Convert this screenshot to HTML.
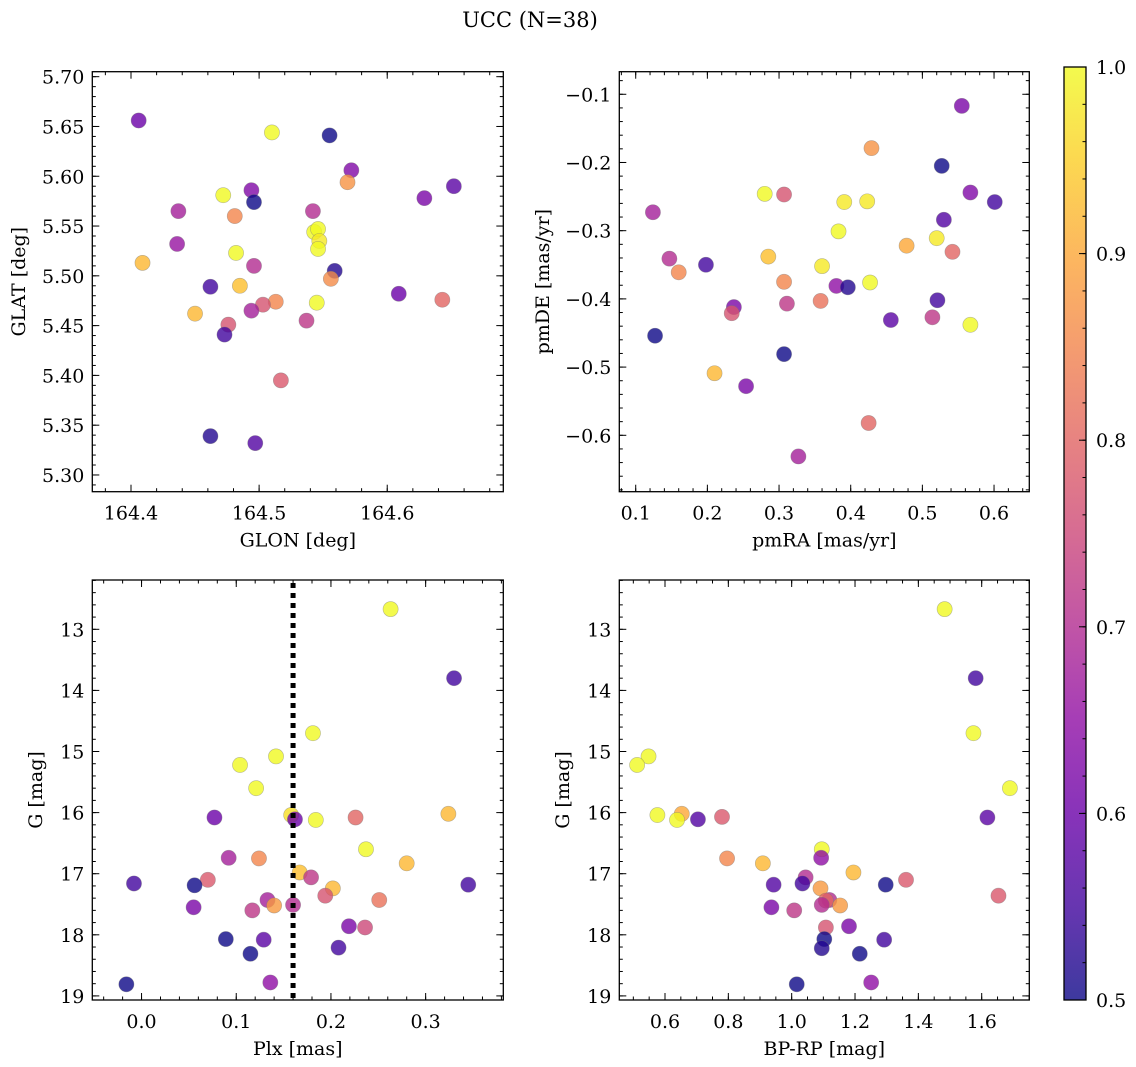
<!DOCTYPE html>
<html><head><meta charset="utf-8"><style>
html,body{margin:0;padding:0;background:#fff;}
svg{display:block;font-family:"DejaVu Serif","Liberation Serif",serif;}
</style></head><body>
<svg id="fig" width="1136" height="1067" viewBox="0 0 1136 1067" xmlns="http://www.w3.org/2000/svg">
<defs>
<linearGradient id="cbgrad" x1="0" y1="1" x2="0" y2="0">
<stop offset="0" stop-color="#0d0887"/><stop offset="0.1" stop-color="#41049d"/><stop offset="0.2" stop-color="#6a00a8"/><stop offset="0.3" stop-color="#8f0da4"/><stop offset="0.4" stop-color="#b12a90"/><stop offset="0.5" stop-color="#cc4778"/><stop offset="0.6" stop-color="#e16462"/><stop offset="0.7" stop-color="#f2844b"/><stop offset="0.8" stop-color="#fca636"/><stop offset="0.9" stop-color="#fcce25"/><stop offset="1" stop-color="#f0f921"/>
</linearGradient>
</defs>
<text x="530" y="27" font-size="21" text-anchor="middle">UCC (N=38)</text>
</svg>
<script>
// ---- Panel 1: GLON / GLAT ----
const glon = [164.406,164.510,164.555,164.572,164.652,164.629,164.494,164.496,164.472,164.569,164.437,164.542,164.481,164.436,164.543,164.546,164.547,164.546,164.482,164.409,164.496,164.559,164.556,164.462,164.485,164.545,164.609,164.643,164.513,164.503,164.450,164.494,164.537,164.476,164.473,164.517,164.462,164.497];
const glat = [5.656,5.644,5.641,5.606,5.590,5.578,5.586,5.574,5.581,5.594,5.565,5.565,5.560,5.532,5.544,5.547,5.535,5.527,5.523,5.513,5.510,5.505,5.497,5.489,5.490,5.473,5.482,5.476,5.474,5.471,5.462,5.465,5.455,5.451,5.441,5.395,5.339,5.332];
const prob1 = [0.6,1.0,0.5,0.63,0.58,0.62,0.63,0.5,1.0,0.87,0.68,0.7,0.85,0.66,1.0,1.0,0.98,1.0,1.0,0.92,0.7,0.52,0.86,0.55,0.93,1.0,0.6,0.8,0.85,0.77,0.92,0.68,0.72,0.77,0.55,0.78,0.52,0.57];
// ---- Panel 2: pmRA / pmDE ----
const pmra = [0.555,0.429,0.527,0.280,0.307,0.567,0.391,0.423,0.601,0.124,0.530,0.383,0.520,0.478,0.542,0.285,0.147,0.198,0.160,0.360,0.307,0.427,0.380,0.396,0.237,0.234,0.311,0.358,0.521,0.456,0.514,0.567,0.127,0.307,0.210,0.254,0.425,0.327];
const pmde = [-0.117,-0.179,-0.205,-0.246,-0.247,-0.244,-0.258,-0.257,-0.258,-0.273,-0.284,-0.301,-0.311,-0.322,-0.331,-0.338,-0.341,-0.350,-0.361,-0.352,-0.375,-0.376,-0.381,-0.383,-0.412,-0.421,-0.407,-0.403,-0.402,-0.431,-0.427,-0.438,-0.454,-0.481,-0.509,-0.528,-0.582,-0.631];
const prob2 = [0.62,0.87,0.5,1.0,0.77,0.63,0.98,0.98,0.55,0.68,0.57,1.0,0.98,0.9,0.8,0.93,0.7,0.55,0.85,0.98,0.85,1.0,0.65,0.52,0.62,0.77,0.72,0.82,0.55,0.58,0.72,1.0,0.5,0.5,0.92,0.62,0.8,0.68];
// ---- Panel 3: Plx / G ----
const plx = [0.263,0.330,0.181,0.142,0.104,0.121,0.077,0.158,0.162,0.184,0.226,0.324,0.237,0.092,0.124,0.280,0.167,0.179,0.070,-0.008,0.056,0.345,0.202,0.194,0.133,0.251,0.140,0.160,0.055,0.117,0.219,0.236,0.089,0.129,0.208,0.115,-0.016,0.136];
const gmag3 = [12.67,13.80,14.70,15.08,15.22,15.60,16.08,16.04,16.11,16.12,16.08,16.02,16.60,16.74,16.75,16.83,16.98,17.06,17.10,17.16,17.19,17.18,17.24,17.36,17.43,17.43,17.52,17.51,17.55,17.60,17.86,17.88,18.07,18.08,18.21,18.31,18.81,18.78];
const prob3 = [1.0,0.55,1.0,1.0,1.0,1.0,0.6,0.97,0.6,1.0,0.8,0.92,1.0,0.68,0.85,0.92,0.93,0.72,0.78,0.55,0.5,0.55,0.92,0.77,0.68,0.82,0.88,0.7,0.62,0.72,0.62,0.75,0.5,0.58,0.55,0.5,0.5,0.65];
const plxLine = [0.16];
// ---- Panel 4: BP-RP / G ----
const bprp = [1.483,1.581,1.574,0.548,0.512,1.689,0.576,0.653,0.638,0.704,0.780,1.618,1.095,1.093,0.796,0.909,1.195,1.044,1.361,0.943,1.034,1.297,1.091,1.653,1.119,1.108,1.153,1.095,0.936,1.008,1.181,1.108,1.292,1.103,1.095,1.215,1.016,1.251];
const gmag4 = [12.67,13.80,14.70,15.08,15.22,15.60,16.04,16.02,16.12,16.11,16.07,16.08,16.60,16.74,16.75,16.83,16.98,17.06,17.10,17.18,17.16,17.18,17.24,17.36,17.43,17.44,17.52,17.51,17.55,17.60,17.86,17.88,18.08,18.07,18.22,18.31,18.81,18.78];
const prob4 = [1.0,0.55,1.0,1.0,1.0,1.0,1.0,0.9,1.0,0.57,0.78,0.58,1.0,0.65,0.85,0.92,0.92,0.7,0.78,0.57,0.55,0.5,0.88,0.78,0.7,0.8,0.88,0.7,0.62,0.72,0.62,0.77,0.55,0.5,0.52,0.5,0.5,0.65];
// ---- tick labels ----
const ticks1x = [164.4,164.5,164.6];
const ticks1y = [5.30,5.35,5.40,5.45,5.50,5.55,5.60,5.65,5.70];
const ticks2x = [0.1,0.2,0.3,0.4,0.5,0.6];
const ticks2y = [-0.1,-0.2,-0.3,-0.4,-0.5,-0.6];
const ticks3x = [0.0,0.1,0.2,0.3];
const ticksG = [13,14,15,16,17,18,19];
const ticks4x = [0.6,0.8,1.0,1.2,1.4,1.6];
const ticksCb = [0.5,0.6,0.7,0.8,0.9,1.0];

const NS = "http://www.w3.org/2000/svg";
const svg = document.getElementById('fig');
const stops = ["#0d0887","#41049d","#6a00a8","#8f0da4","#b12a90","#cc4778","#e16462","#f2844b","#fca636","#fcce25","#f0f921"];
const FS = 19;
function hex(c){return [parseInt(c.slice(1,3),16),parseInt(c.slice(3,5),16),parseInt(c.slice(5,7),16)];}
function cmap(p){
  let t=(p-0.5)/0.5; t=Math.max(0,Math.min(1,t));
  const f=t*10, i=Math.min(9,Math.floor(f)), r=f-i;
  const a=hex(stops[i]), b=hex(stops[i+1]);
  return 'rgb('+a.map((v,k)=>Math.round(v+(b[k]-v)*r)).join(',')+')';
}
function mk(tag, attrs, parent){
  const e=document.createElementNS(NS,tag);
  for(const k in attrs) e.setAttribute(k,attrs[k]);
  (parent||svg).appendChild(e); return e;
}
function fmt(v,d){return v.toFixed(d).replace('-','\u2212');}

function panel(cfg){
  const {name,x0,x1,y0,y1,xmin,xmax,ymin,ymax,invertY}=cfg;
  const g=mk('g',{});
  
  
  const sx=v=>x0+(v-xmin)/(xmax-xmin)*(x1-x0);
  const sy=v=> invertY ? y0+(v-ymin)/(ymax-ymin)*(y1-y0) : y1-(v-ymin)/(ymax-ymin)*(y1-y0);
  const pts=mk('g',{},g);
  
  
  cfg.xs.forEach((xv,i)=>{
    const c=mk('circle',{cx:sx(xv),cy:sy(cfg.ys[i]),r:7.6,fill:cmap(cfg.ps[i]),'fill-opacity':0.8,stroke:'#777','stroke-opacity':0.5,'stroke-width':0.6},pts);
    
    
  });
  if(cfg.vline){cfg.vline.forEach(v=>{
    const l=mk('line',{x1:sx(v),x2:sx(v),y1:y0+3,y2:y1,stroke:'#000','stroke-width':5,'stroke-dasharray':'5 5'},g);
    
    
  });}
  const fr=mk('rect',{x:x0,y:y0,width:x1-x0,height:y1-y0,fill:'none',stroke:'#000','stroke-width':1.3},g);
  
  
  const tk=mk('g',{stroke:'#000','stroke-width':1},g);
  for(let v=Math.ceil(xmin/cfg.xminor-1e-9)*cfg.xminor; v<=xmax; v+=cfg.xminor){
    const X=sx(v); mk('line',{x1:X,x2:X,y1:y1,y2:y1-3.5},tk); mk('line',{x1:X,x2:X,y1:y0,y2:y0+3.5},tk);
  }
  const ylo=Math.min(ymin,ymax), yhi=Math.max(ymin,ymax);
  for(let v=Math.ceil(ylo/cfg.yminor-1e-9)*cfg.yminor; v<=yhi; v+=cfg.yminor){
    const Y=sy(v); mk('line',{x1:x0,x2:x0+3.5,y1:Y,y2:Y},tk); mk('line',{x1:x1,x2:x1-3.5,y1:Y,y2:Y},tk);
  }
  cfg.xt.forEach(v=>{
    const X=sx(v); mk('line',{x1:X,x2:X,y1:y1,y2:y1-7},tk); mk('line',{x1:X,x2:X,y1:y0,y2:y0+7},tk);
    const t=mk('text',{x:X,y:y1+28,'font-size':FS,'text-anchor':'middle'},g); t.textContent=fmt(v,cfg.xd);
    
    
  });
  cfg.yt.forEach(v=>{
    const Y=sy(v); mk('line',{x1:x0,x2:x0+7,y1:Y,y2:Y},tk); mk('line',{x1:x1,x2:x1-7,y1:Y,y2:Y},tk);
    const t=mk('text',{x:x0-8,y:Y+7,'font-size':FS,'text-anchor':'end'},g); t.textContent=fmt(v,cfg.yd);
    
    
  });
  const xl=mk('text',{x:(x0+x1)/2,y:y1+55,'font-size':FS,'text-anchor':'middle'},g); xl.textContent=cfg.xlabel;
  
  
  const yl=mk('text',{x:0,y:0,'font-size':FS,'text-anchor':'middle',transform:'translate('+cfg.ylx+','+((y0+y1)/2)+') rotate(-90)'},g); yl.textContent=cfg.ylabel;
  
  
}

panel({name:'glon-glat-panel',x0:92.3,x1:503.3,y0:71.7,y1:491.7,xmin:164.3698,xmax:164.6906,ymin:5.2832,ymax:5.7050,
  xs:glon,ys:glat,ps:prob1,xt:ticks1x,yt:ticks1y,xd:1,yd:2,xminor:0.02,yminor:0.01,xlabel:'GLON [deg]',ylabel:'GLAT [deg]',ylx:25});
panel({name:'pm-panel',x0:619.3,x1:1029.3,y0:71.7,y1:491.7,xmin:0.0771,xmax:0.6492,ymin:-0.6827,ymax:-0.0669,
  xs:pmra,ys:pmde,ps:prob2,xt:ticks2x,yt:ticks2y,xd:1,yd:1,xminor:0.02,yminor:0.02,xlabel:'pmRA [mas/yr]',ylabel:'pmDE [mas/yr]',ylx:549});
panel({name:'plx-g-panel',x0:92.3,x1:503.3,y0:580,y1:1000,xmin:-0.0520,xmax:0.3820,ymin:12.193,ymax:19.067,invertY:true,
  xs:plx,ys:gmag3,ps:prob3,xt:ticks3x,yt:ticksG,xd:1,yd:0,xminor:0.02,yminor:0.2,xlabel:'Plx [mas]',ylabel:'G [mag]',ylx:42,vline:plxLine});
panel({name:'cmd-panel',x0:619.3,x1:1029.3,y0:580,y1:1000,xmin:0.4557,xmax:1.7503,ymin:12.193,ymax:19.067,invertY:true,
  xs:bprp,ys:gmag4,ps:prob4,xt:ticks4x,yt:ticksG,xd:1,yd:0,xminor:0.05,yminor:0.2,xlabel:'BP-RP [mag]',ylabel:'G [mag]',ylx:569});

const cb=mk('g',{});


const cbx0=1064,cbx1=1086,cby0=67,cby1=1000;
const cbs=v=>cby1-(v-0.5)/0.5*(cby1-cby0);
mk('rect',{x:cbx0,y:cby0,width:cbx1-cbx0,height:cby1-cby0,fill:'url(#cbgrad)','fill-opacity':0.8},cb);
mk('rect',{x:cbx0,y:cby0,width:cbx1-cbx0,height:cby1-cby0,fill:'none',stroke:'#000','stroke-width':1.3},cb);
for(let v=0.52; v<1.0; v+=0.02){ const Y=cbs(v); mk('line',{x1:cbx1,x2:cbx1-3.5,y1:Y,y2:Y,stroke:'#000','stroke-width':1},cb); }
ticksCb.forEach(v=>{
  const Y=cbs(v); mk('line',{x1:cbx1,x2:cbx1-7,y1:Y,y2:Y,stroke:'#000','stroke-width':1},cb);
  const t=mk('text',{x:1096,y:Y+7,'font-size':FS},cb); t.textContent=v.toFixed(1);
  
  
});
</script>
</body></html>
